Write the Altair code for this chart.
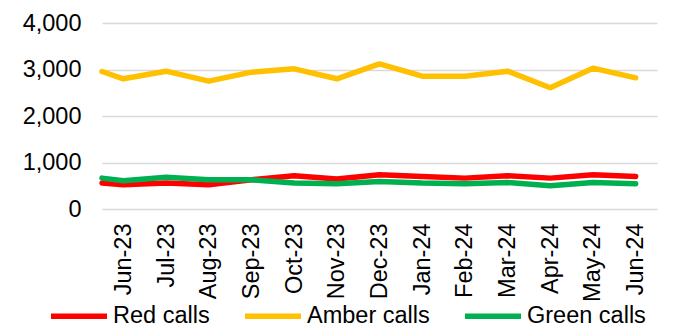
import json
import altair as alt
import pandas as pd

months = ["Jun-23", "Jul-23", "Aug-23", "Sep-23", "Oct-23", "Nov-23", "Dec-23",
          "Jan-24", "Feb-24", "Mar-24", "Apr-24", "May-24", "Jun-24"]
red = [521, 557, 521, 628, 714, 643, 736, 700, 664, 714, 664, 736, 700]
amber = [2800, 2964, 2750, 2943, 3014, 2800, 3120, 2857, 2857, 2964, 2607, 3029, 2821]
green = [607, 685, 628, 628, 557, 543, 593, 557, 543, 571, 500, 571, 543]

# each series runs in from the left edge of the plot
red_start, amber_start, green_start = 557, 2957, 664

series_names = ["Red calls", "Amber calls", "Green calls"]
series_colors = ["#FF0000", "#FFC000", "#00B050"]

rows = []
for name, start, vals in zip(series_names,
                             [red_start, amber_start, green_start],
                             [red, amber, green]):
    rows.append({"pos": -0.5, "series": name, "calls": start})
    for i, v in enumerate(vals):
        rows.append({"pos": i, "series": name, "calls": v})
df = pd.DataFrame(rows)

label_expr = json.dumps(months) + "[datum.value]"
font = "Liberation Sans"
fs = 23.5

chart = alt.Chart(df).mark_line(
    strokeWidth=5.5, strokeCap="round", strokeJoin="round"
).encode(
    x=alt.X("pos:Q",
            scale=alt.Scale(domain=[-0.5, 12.5], nice=False, zero=False),
            axis=alt.Axis(values=list(range(len(months))), labelExpr=label_expr,
                          labelAngle=270, labelFontSize=fs, labelFont=font,
                          labelColor="#000000", labelPadding=14, ticks=False,
                          domain=False, grid=False, title=None,
                          labelOverlap=False)),
    y=alt.Y("calls:Q",
            scale=alt.Scale(domain=[0, 4000], nice=False),
            axis=alt.Axis(values=[0, 1000, 2000, 3000, 4000], format=",.0f",
                          labelFontSize=fs, labelFont=font, labelColor="#000000",
                          labelPadding=21, ticks=False, domain=False,
                          gridColor="#d9d9d9", gridWidth=1.5, title=None)),
    color=alt.Color("series:N",
                    scale=alt.Scale(domain=series_names, range=series_colors),
                    sort=series_names,
                    legend=alt.Legend(orient="none", legendX=-54, legendY=262,
                                      direction="horizontal", title=None,
                                      symbolType="stroke", symbolSize=3136,
                                      symbolStrokeWidth=5.5, labelFontSize=fs,
                                      labelFont=font, labelColor="#000000",
                                      labelOffset=3, columnPadding=24,
                                      padding=0)),
    detail="series:N",
).properties(
    width=555, height=186,
    autosize=alt.AutoSizeParams(type="none"),
    padding={"left": 102, "top": 23, "right": 16, "bottom": 120},
).configure(background="#ffffff").configure_view(stroke=None)

chart.save("out.html", embed_options={"renderer": "svg", "actions": False})
